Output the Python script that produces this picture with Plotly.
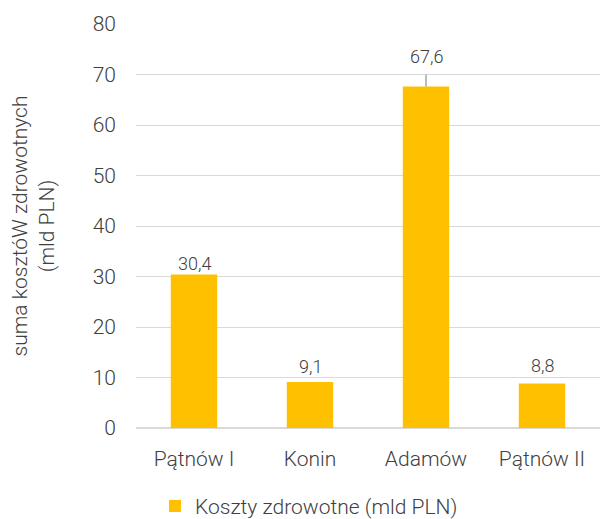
import plotly.graph_objects as go

# Health costs per power plant (bn PLN)
categories = ["Pątnów I", "Konin", "Adamów", "Pątnów II"]
values = [30.4, 9.1, 67.6, 8.8]
value_labels = ["30,4", "9,1", "67,6", "8,8"]
series_name = "Koszty zdrowotne (mld PLN)"
y_title = "suma kosztóW zdrowotnych<br>(mld PLN)"
y_ticks = [0, 10, 20, 30, 40, 50, 60, 70, 80]

BAR = "#FFC000"
TEXT = "#404040"
GRID = "#D9D9D9"
FONT = "Roboto"
AX_SIZE = 21
LBL_SIZE = 18

fig = go.Figure()
fig.add_trace(go.Bar(
    x=categories, y=values, name=series_name,
    marker=dict(color=BAR, line=dict(width=0)),
    showlegend=True,
))

# value labels above the bars; the tallest one uses a leader line
label_shift = [11, 16, None, 18]
for cat, val, lab, sh in zip(categories, values, value_labels, label_shift):
    if sh is None:
        fig.add_annotation(
            x=cat, y=val, text=lab, showarrow=True, arrowhead=0,
            arrowwidth=1.5, arrowcolor="#A6A6A6", ax=0, ay=-30,
            standoff=0, borderpad=7,
            font=dict(family=FONT, size=LBL_SIZE, color=TEXT, weight=300),
        )
    else:
        fig.add_annotation(
            x=cat, y=val, text=lab, showarrow=False, yshift=sh,
            yanchor="middle",
            font=dict(family=FONT, size=LBL_SIZE, color=TEXT, weight=300),
        )

fig.update_layout(
    width=600, height=519,
    margin=dict(l=136, r=0, t=24, b=91),
    paper_bgcolor="white", plot_bgcolor="white",
    font=dict(family=FONT, size=AX_SIZE, color=TEXT, weight=300),
    bargap=0.6,
    legend=dict(
        orientation="h", xref="container", yref="container",
        x=0.2583, xanchor="left", y=0.0245, yanchor="middle",
        font=dict(family=FONT, size=AX_SIZE, color=TEXT, weight=300),
        itemwidth=30, tracegroupgap=0,
    ),
    xaxis=dict(
        showgrid=False, showline=False, ticks="", ticklabelstandoff=16,
        tickfont=dict(family=FONT, size=AX_SIZE, color=TEXT, weight=300),
    ),
    yaxis=dict(
        range=[0, 80], tickvals=y_ticks, showgrid=True, gridcolor=GRID,
        gridwidth=1, zeroline=True, zerolinecolor=GRID, zerolinewidth=2,
        showline=False, ticks="", ticklabelstandoff=19,
        tickfont=dict(family=FONT, size=AX_SIZE, color=TEXT, weight=300),
        title=dict(text=y_title, standoff=32,
                   font=dict(family=FONT, size=AX_SIZE, color=TEXT, weight=300)),
    ),
)

fig.write_html("out.html")
